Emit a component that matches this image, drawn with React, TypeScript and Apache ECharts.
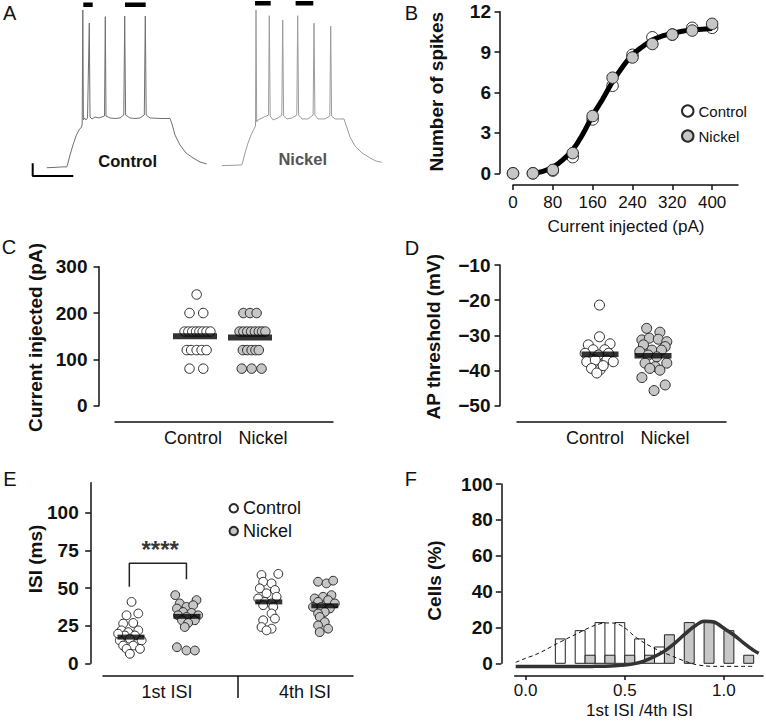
import React, { useEffect, useRef } from "react";
import * as echarts from "echarts";

const FONT = '"Liberation Sans", Arial, Helvetica, sans-serif';
const INK = "#111111";
const EDGE = "#2a2a2a";
const FILL_NI = "#c6c6c6";

// ---------- Panel A: example voltage traces [time (ms), Vm (mV)]
const traceControl = [
  [41.75, -72.5], [62.5, -72.3], [80, -72.0], [91.75, -72.0], [95, -69.6], [100, -64.7], [107.5, -58.6],
  [115, -53.1], [122.5, -49.4], [128.75, -47.6], [130.5, -45.8], [132, 23.9], [133.5, -43.3], [136.25, -42.1],
  [140, -43.3], [143.75, -42.1], [148.25, 15.9], [150, -41.5], [155, -42.7], [162.5, -41.5], [172.5, -42.1],
  [186.25, -40.9], [188.25, 19.8], [190, -40.9], [200, -42.1], [212.5, -42.4], [225, -42.1], [234.5, -40.3],
  [236.75, 20.2], [239, -40.3], [250, -42.1], [262.5, -42.4], [275, -42.1], [285.75, -40.3], [288.25, 20.2],
  [290.5, -40.3], [300, -42.1], [325, -42.4], [350, -42.4], [355, -45.8], [362.5, -52.5], [375, -58.6],
  [390, -63.5], [407.5, -66.5], [425, -69.0], [441.75, -70.2],
];
const traceNickel = [
  [479.25, -71.2], [500, -71.1], [529.25, -70.8], [532.5, -68.4], [537.5, -63.5], [545, -57.4], [552.5, -52.5],
  [560, -48.8], [563.75, -47.0], [565, 23.9], [566.75, -44.5], [570, -43.3], [580, -42.1], [596.25, -40.3],
  [598.25, 20.4], [600.5, -40.9], [607.5, -43.3], [620, -42.1], [629.5, -40.3], [631.75, 17.8], [634, -40.9],
  [642.5, -42.7], [655, -42.1], [667, -40.3], [669.25, 20.4], [671.5, -40.3], [680, -42.7], [695, -42.7],
  [707.75, -40.3], [710, 15.8], [712.25, -40.3], [720, -42.7], [737.5, -42.7], [749.5, -40.9], [751.75, 14.1],
  [754, -40.9], [762.5, -42.7], [785, -42.7], [790, -46.4], [800, -53.7], [812.5, -59.2], [830, -63.5],
  [850, -66.5], [865, -68.4], [879.25, -69.2],
];
const isiMarks = [
  [[133.25, 27.1], [156.75, 27.1]],
  [[237.5, 27.1], [289.25, 27.1]],
  [[562.5, 28], [601.75, 28]],
  [[664, 28], [708.25, 28]],
];
const scaleBar = [[6.75, -69.8], [6.75, -77.5], [108.25, -77.5]];

// ---------- Panel B: input-output curve
const currentSteps = [0, 40, 80, 120, 160, 200, 240, 280, 320, 360, 400];
const spikesControl = [0, 0, 0.2, 1.2, 4.0, 6.5, 8.8, 10.1, 10.3, 10.8, 10.8];
const spikesNickel = [0, 0, 0.25, 1.5, 4.25, 7.1, 8.6, 9.6, 10.3, 10.6, 11.1];
const fitCurrent = [40, 60, 80, 100, 120, 140, 160, 180, 200, 220, 240, 260, 280, 300, 320, 340, 360, 380, 400];
const fitSpikes = [0, 0.15, 0.45, 1.0, 1.75, 2.9, 4.3, 5.5, 6.8, 7.9, 8.8, 9.4, 9.9, 10.2, 10.4, 10.55, 10.65, 10.7, 10.75];
const bTicks = [0, 80, 160, 240, 320, 400];

// ---------- Panel C: rheobase current (pA)
const groupNames = ["Control", "Nickel"];
const cControl = [240, 200, 200, 160, 160, 160, 160, 160, 160, 160, 160, 120, 120, 120, 120, 120, 80, 80];
const cControlJitter = [0.03, -0.1, 0.15, -0.19, -0.12, -0.05, 0.02, 0.08, 0.14, 0.21, 0.28, -0.15, -0.07, 0.03, 0.12, 0.21, -0.1, 0.15];
const cNickel = [200, 200, 200, 160, 160, 160, 160, 160, 160, 160, 160, 120, 120, 120, 120, 120, 80, 80, 80];
const cNickelJitter = [-0.12, 0, 0.12, -0.19, -0.12, -0.05, 0.02, 0.09, 0.16, 0.22, 0.28, -0.13, -0.05, 0.03, 0.1, 0.16, -0.15, 0.03, 0.21];
const cMeans = [150, 147];

// ---------- Panel D: AP threshold (mV)
const dControl = [-21.4, -30.4, -32.7, -32.4, -34.1, -34.1, -35.1, -35.1, -35.6, -37.5, -37.0, -37.0, -37.5, -39.4, -39.8, -40.7, -38.6];
const dControlJitter = [-0.01, -0.01, -0.22, 0.19, -0.13, 0.09, -0.28, 0.16, -0.03, -0.25, -0.09, 0.13, 0.25, -0.16, 0, -0.06, 0.06];
const dNickel = [-28.0, -29.1, -31.3, -30.8, -31.1, -31.8, -32.7, -33.2, -34.6, -34.2, -34.2, -35.6, -36.1, -37.9, -38.9, -37.9, -39.4, -39.9, -42.0, -44.1, -45.7];
const dNickelJitter = [-0.12, 0.13, -0.21, -0.07, 0.1, 0.26, -0.18, 0.23, -0.25, -0.02, 0.16, -0.09, 0.07, -0.15, 0.04, 0.26, -0.06, 0.13, -0.21, 0.23, 0.02];
const dMeans = [-35.4, -35.8];

// ---------- Panel E: ISI (ms)
const isiNames = ["1st ISI", "4th ISI"];
const eCtrl1 = [40.8, 31.9, 33.1, 26.4, 26.8, 21.9, 20.7, 21.9, 18.5, 18.5, 15.2, 16.3, 15.2, 11.8, 11.8, 9.6, 9.6, 6.3, 19.7];
const eCtrl1Jitter = [0.01, -0.08, 0.13, -0.14, 0.04, -0.17, -0.05, 0.13, -0.11, 0.07, -0.2, -0.02, 0.19, -0.14, 0.04, -0.08, 0.16, -0.02, -0.23];
const eNick1 = [45.3, 39.8, 42.0, 36.4, 37.5, 38.6, 34.1, 33.5, 31.9, 31.9, 30.8, 28.6, 28.6, 26.8, 24.1, 10.7, 8.5, 8.5];
const eNick1Jitter = [-0.21, -0.13, 0.17, -0.18, -0.01, 0.11, -0.07, 0.08, -0.16, 0.2, -0.01, -0.09, 0.14, 0.02, -0.04, -0.18, -0.01, 0.14];
const eCtrl4 = [58.7, 59.4, 54.2, 53.1, 49.8, 48.7, 46.5, 43.1, 44.2, 40.8, 39.8, 38.6, 37.5, 33.1, 29.7, 28.6, 24.1, 23.0, 21.9];
const eCtrl4Jitter = [-0.13, 0.17, -0.1, 0.05, -0.16, 0.11, -0.04, -0.19, 0.14, -0.07, 0.05, -0.1, 0.08, 0.05, 0.11, -0.1, -0.13, 0.05, -0.04];
const eNick4 = [54.2, 53.1, 54.9, 43.1, 44.2, 45.3, 40.8, 42.0, 39.8, 37.5, 37.5, 36.4, 34.1, 33.1, 30.8, 27.4, 25.2, 23.0, 20.7];
const eNick4Jitter = [-0.12, 0.03, 0.15, -0.18, -0.03, 0.12, -0.12, 0.06, 0.18, -0.21, -0.06, 0.09, 0, -0.12, -0.09, 0, -0.12, 0.06, -0.09];
const eMeans = [17.4, 31.2, 40.8, 38.2];
const eTicks = [0, 25, 50, 75, 100];
const sigBracket = [[0.97, 50.9], [0.97, 66.5], [1.99, 66.5], [1.99, 55.8]];
const sigText = "****";

// ---------- Panel F: distribution of 1st ISI / 4th ISI
const fControlBins = [[0.15, 0.2, 13.6], [0.25, 0.3, 18.2], [0.35, 0.4, 22.7], [0.45, 0.5, 22.7], [0.55, 0.6, 13.6], [0.65, 0.7, 9.1]];
const fNickelBins = [[0.3, 0.35, 4.5], [0.4, 0.45, 4.5], [0.5, 0.55, 4.5], [0.6, 0.65, 4.5], [0.7, 0.75, 15.9], [0.8, 0.85, 22.7], [0.9, 0.95, 22.7], [1.0, 1.05, 18.2], [1.1, 1.15, 4.5]];
const fitCtrlX = [-0.05, 0, 0.05, 0.1, 0.15, 0.2, 0.25, 0.3, 0.35, 0.4, 0.45, 0.5, 0.55, 0.6, 0.65, 0.7, 0.75, 0.8, 0.85, 0.9, 0.95, 1.0, 1.05, 1.1, 1.15];
const fitCtrlY = [0.5, 2.8, 4.8, 7.5, 10.5, 13.3, 16.0, 18.8, 21.2, 22.5, 22.4, 19.8, 15.0, 11.3, 8.3, 5.8, 3.5, 1.3, -0.5, -1.4, -1.7, -1.7, -1.7, -1.7, -1.7];
const fitNiX = [-0.05, 0, 0.1, 0.2, 0.3, 0.35, 0.4, 0.45, 0.5, 0.55, 0.6, 0.65, 0.7, 0.75, 0.8, 0.85, 0.9, 0.95, 1.0, 1.05, 1.1, 1.15, 1.175];
const fitNiY = [-1.8, -1.8, -1.8, -1.8, -1.8, -1.7, -1.6, -1.4, -1.0, -0.2, 1.4, 3.8, 6.8, 11.0, 16.0, 20.5, 23.4, 23.0, 19.5, 15.8, 11.3, 7.2, 5.6];
const fTicks = [0, 0.5, 1.0];

// ---------- layout helpers
const axisLineStyle = { color: INK, width: 1.5 };
const boldTick = { fontSize: 19, fontWeight: "bold" as const, color: INK, fontFamily: FONT };
const plainTick = { fontSize: 17, color: INK, fontFamily: FONT };

function pickLabel(positions: number[], names: string[]) {
  return (v: number) => {
    const i = positions.findIndex((p) => Math.abs(p - v) < 1e-6);
    return i >= 0 ? names[i] : "";
  };
}

function scatter(name: string, idx: number, values: number[], jitter: number[], center: number, size: number, fill: string, z = 3) {
  return {
    type: "scatter",
    name,
    xAxisIndex: idx,
    yAxisIndex: idx,
    data: values.map((v, i) => [center + jitter[i], v]),
    symbol: "circle",
    symbolSize: size,
    itemStyle: { color: fill, borderColor: EDGE, borderWidth: 1, opacity: 1 },
    z,
    clip: false,
    silent: true,
  };
}

function meanBars(idx: number, centers: number[], means: number[], w: number, h: number) {
  return {
    type: "scatter",
    name: "mean",
    xAxisIndex: idx,
    yAxisIndex: idx,
    data: means.map((m, i) => [centers[i], m]),
    symbol: "rect",
    symbolSize: [w, h],
    itemStyle: { color: "#000" },
    z: 6,
    clip: false,
    silent: true,
  };
}

function text(t: string, x: number, y: number, size: number, weight = "normal", rot = 0, color = INK, align = "center") {
  return {
    type: "text",
    x,
    y,
    rotation: rot,
    silent: true,
    style: {
      text: t,
      font: `${weight} ${size}px ${FONT}`,
      fill: color,
      align,
      verticalAlign: "middle",
      textAlign: align,
      textVerticalAlign: "middle",
    },
  };
}

function histBars(idx: number, bins: number[][], fill: string, name: string) {
  return {
    type: "custom",
    name,
    xAxisIndex: idx,
    yAxisIndex: idx,
    data: bins,
    encode: { x: [0, 1], y: 2 },
    clip: false,
    silent: true,
    z: 2,
    renderItem: (_p: any, api: any) => {
      const a = api.coord([api.value(0), api.value(2)]);
      const b = api.coord([api.value(1), 0]);
      return {
        type: "rect",
        shape: { x: a[0], y: a[1], width: b[0] - a[0], height: b[1] - a[1] },
        style: { fill, stroke: "#222", lineWidth: 1 },
      };
    },
  };
}

function buildOption() {
  const cCenters = [1, 2];
  const cLabelPos = [0.964, 2.236];
  const dLabelPos = [0.906, 2.226];
  const eCenters = [1, 2, 3.46, 4.46];
  const eLabelPos = [1.643, 4.107];
  const eDivider = [2.905];

  const valueY = (idx: number, min: number, max: number, extra: any) => ({
    gridIndex: idx,
    type: "value",
    min,
    max,
    axisLine: { show: true, onZero: false, lineStyle: axisLineStyle },
    axisTick: { show: true, length: 5.5, lineStyle: axisLineStyle },
    axisLabel: { ...boldTick },
    splitLine: { show: false },
    ...extra,
  });

  const catX = (idx: number, min: number, max: number, offset: number, pos: number[], names: string[], margin: number, extraTick: any = { show: false }) => ({
    gridIndex: idx,
    type: "value",
    min,
    max,
    offset,
    axisLine: { show: true, onZero: false, lineStyle: axisLineStyle },
    axisTick: extraTick,
    axisLabel: { fontSize: 18, color: INK, fontFamily: FONT, margin, customValues: pos, formatter: pickLabel(pos, names) },
    splitLine: { show: false },
  });

  return {
    animation: false,
    backgroundColor: "#ffffff",
    textStyle: { fontFamily: FONT },
    grid: [
      { left: 30, top: 0, width: 360, height: 180 },
      { left: 513, top: 11.7, width: 225, height: 161.6 },
      { left: 115, top: 266.7, width: 218, height: 139 },
      { left: 517, top: 265, width: 209, height: 140.7 },
      { left: 103, top: 482.7, width: 250, height: 180.6 },
      { left: 514.7, top: 484, width: 248.3, height: 179.3 },
    ],
    xAxis: [
      { gridIndex: 0, type: "value", min: 0, max: 900, show: false },
      {
        gridIndex: 1,
        type: "value",
        min: 0,
        max: 452,
        offset: 11.7,
        axisLine: { show: true, onZero: false, lineStyle: axisLineStyle },
        axisTick: { show: true, customValues: bTicks, length: 5, lineStyle: axisLineStyle },
        axisLabel: { ...plainTick, margin: 9, customValues: bTicks },
        splitLine: { show: false },
      },
      catX(2, -0.4545, 3.509, 16.3, cLabelPos, groupNames, 7),
      catX(3, -0.566, 3.377, 16, dLabelPos, groupNames, 7.5),
      catX(4, 0.5, 4.964, 12.7, eLabelPos, isiNames, 6.5, {
        show: true,
        customValues: eDivider,
        length: 22,
        lineStyle: { color: INK, width: 1.5 },
      }),
      {
        gridIndex: 5,
        type: "value",
        min: -0.055,
        max: 1.197,
        offset: 12.7,
        axisLine: { show: true, onZero: false, lineStyle: axisLineStyle },
        axisTick: { show: true, customValues: fTicks, length: 4, lineStyle: axisLineStyle },
        axisLabel: { ...plainTick, margin: 6, customValues: fTicks, formatter: (v: number) => v.toFixed(1) },
        splitLine: { show: false },
      },
    ],
    yAxis: [
      { gridIndex: 0, type: "value", min: -80, max: 30, show: false },
      valueY(1, 0, 12, { interval: 3, offset: 13, axisLabel: { ...boldTick, margin: 9 } }),
      valueY(2, 0, 300, { interval: 100, offset: 16, axisLabel: { ...boldTick, margin: 11.5 } }),
      valueY(3, -50, -10, {
        interval: 10,
        offset: 17,
        axisLabel: { ...boldTick, margin: 9.5, formatter: (v: number) => (v < 0 ? "\u2212" + Math.abs(v) : String(v)) },
      }),
      valueY(4, 0, 120, {
        offset: 12.3,
        axisTick: { show: true, length: 5.5, customValues: eTicks, lineStyle: axisLineStyle },
        axisLabel: { ...boldTick, margin: 12, customValues: eTicks },
      }),
      valueY(5, 0, 100, { interval: 20, offset: 13.4, axisLabel: { ...boldTick, margin: 8.5 } }),
    ],
    legend: [
      {
        data: ["Control", "Nickel"],
        left: 676,
        top: 98.5,
        orient: "vertical",
        itemWidth: 11.5,
        itemHeight: 11.5,
        itemGap: 10,
        itemTextGap: 6,
        selectedMode: false,
        textStyle: { fontSize: 15, color: INK, fontFamily: FONT },
      },
      {
        data: ["Control", "Nickel"],
        left: 223.5,
        top: 494.3,
        orient: "vertical",
        itemWidth: 8.5,
        itemHeight: 8.5,
        itemGap: 4.7,
        itemTextGap: 10,
        selectedMode: false,
        textStyle: { fontSize: 18, color: INK, fontFamily: FONT },
      },
    ],
    graphic: [
      text("A", 3, 13, 20, "normal", 0, INK, "left"),
      text("B", 404.7, 12.5, 20, "normal", 0, INK, "left"),
      text("C", 1.7, 246.5, 20, "normal", 0, INK, "left"),
      text("D", 404.7, 247.5, 20, "normal", 0, INK, "left"),
      text("E", 3.3, 478.5, 20, "normal", 0, INK, "left"),
      text("F", 404.7, 479, 20, "normal", 0, INK, "left"),
      text("Control", 127.7, 161, 16.5, "bold"),
      text("Nickel", 302.7, 159.3, 16.5, "bold", 0, "#555555"),
      text("Number of spikes", 436.3, 91.7, 19, "bold", Math.PI / 2),
      text("Current injected (pA)", 626, 226, 17),
      text("Current injected (pA)", 35, 337.5, 19, "bold", Math.PI / 2),
      text("AP threshold (mV)", 433.5, 336.7, 19, "bold", Math.PI / 2),
      text("ISI (ms)", 35, 559, 19, "bold", Math.PI / 2),
      text("Cells (%)", 434.7, 580.5, 19, "bold", Math.PI / 2),
      text("1st ISI /4th ISI", 639.5, 710, 17),
    ],
    series: [
      // Panel A
      { type: "line", xAxisIndex: 0, yAxisIndex: 0, data: traceControl, symbol: "none", lineStyle: { color: "#707070", width: 1 }, silent: true, clip: false },
      { type: "line", xAxisIndex: 0, yAxisIndex: 0, data: traceNickel, symbol: "none", lineStyle: { color: "#9c9c9c", width: 1 }, silent: true, clip: false },
      ...isiMarks.map((seg) => ({
        type: "line",
        xAxisIndex: 0,
        yAxisIndex: 0,
        data: seg,
        symbol: "none",
        lineStyle: { color: "#000", width: 4.5, cap: "butt" },
        silent: true,
        clip: false,
      })),
      { type: "line", xAxisIndex: 0, yAxisIndex: 0, data: scaleBar, symbol: "none", lineStyle: { color: "#000", width: 2 }, silent: true, clip: false },
      // Panel B
      {
        type: "scatter",
        name: "Control",
        xAxisIndex: 1,
        yAxisIndex: 1,
        data: currentSteps.map((c, i) => [c, spikesControl[i]]),
        symbolSize: 11.5,
        itemStyle: { color: "#ffffff", borderColor: EDGE, borderWidth: 1, opacity: 1 },
        z: 2,
        clip: false,
        silent: true,
      },
      {
        type: "line",
        xAxisIndex: 1,
        yAxisIndex: 1,
        data: fitCurrent.map((c, i) => [c, fitSpikes[i]]),
        symbol: "none",
        smooth: 0.4,
        lineStyle: { color: "#000", width: 5 },
        z: 3,
        silent: true,
      },
      {
        type: "scatter",
        name: "Nickel",
        xAxisIndex: 1,
        yAxisIndex: 1,
        data: currentSteps.map((c, i) => [c, spikesNickel[i]]),
        symbolSize: 11.5,
        itemStyle: { color: FILL_NI, borderColor: EDGE, borderWidth: 1, opacity: 1 },
        z: 4,
        clip: false,
        silent: true,
      },
      // Panel C
      scatter("Control", 2, cControl, cControlJitter, cCenters[0], 9.5, "#ffffff"),
      scatter("Nickel", 2, cNickel, cNickelJitter, cCenters[1], 9.5, FILL_NI),
      meanBars(2, cCenters, cMeans, 44, 6),
      // Panel D
      scatter("Control", 3, dControl, dControlJitter, 1, 10, "#ffffff"),
      scatter("Nickel", 3, dNickel, dNickelJitter, 2, 10, FILL_NI),
      meanBars(3, [1, 2], dMeans, 37, 5.5),
      // Panel E
      scatter("Control", 4, eCtrl1, eCtrl1Jitter, eCenters[0], 8.8, "#ffffff"),
      scatter("Nickel", 4, eNick1, eNick1Jitter, eCenters[1], 8.8, FILL_NI),
      scatter("Control", 4, eCtrl4, eCtrl4Jitter, eCenters[2], 8.8, "#ffffff"),
      scatter("Nickel", 4, eNick4, eNick4Jitter, eCenters[3], 8.8, FILL_NI),
      meanBars(4, eCenters, eMeans, 27, 5),
      {
        type: "line",
        xAxisIndex: 4,
        yAxisIndex: 4,
        data: sigBracket,
        symbol: "none",
        lineStyle: { color: "#222", width: 1.5 },
        silent: true,
        z: 4,
      },
      {
        type: "scatter",
        xAxisIndex: 4,
        yAxisIndex: 4,
        data: [[1.52, 78.8]],
        symbolSize: 1,
        itemStyle: { color: "rgba(0,0,0,0)" },
        label: { show: true, position: "inside", formatter: sigText, fontSize: 24, fontWeight: "bold", color: "#000", fontFamily: FONT, offset: [0, 5] },
        silent: true,
      },
      // Panel F
      histBars(5, fControlBins, "#ffffff", "fControl"),
      histBars(5, fNickelBins, "#c8c8c8", "fNickel"),
      {
        type: "line",
        xAxisIndex: 5,
        yAxisIndex: 5,
        data: fitCtrlX.map((x, i) => [x, fitCtrlY[i]]),
        symbol: "none",
        smooth: 0.3,
        lineStyle: { color: "#111", width: 1, type: [4, 3] },
        z: 4,
        clip: false,
        silent: true,
      },
      {
        type: "line",
        xAxisIndex: 5,
        yAxisIndex: 5,
        data: fitNiX.map((x, i) => [x, fitNiY[i]]),
        symbol: "none",
        smooth: 0.3,
        lineStyle: { color: "#333", width: 3.5 },
        z: 5,
        clip: false,
        silent: true,
      },
    ],
  };
}

export default function App() {
  const ref = useRef<HTMLDivElement>(null);
  useEffect(() => {
    if (!ref.current) return;
    const chart = echarts.init(ref.current, null, { renderer: "svg" });
    chart.setOption(buildOption() as any);
    return () => chart.dispose();
  }, []);
  return (
    <div
      ref={ref}
      style={{ position: "fixed", left: 0, top: 0, width: 766, height: 726, background: "#ffffff" }}
    />
  );
}
